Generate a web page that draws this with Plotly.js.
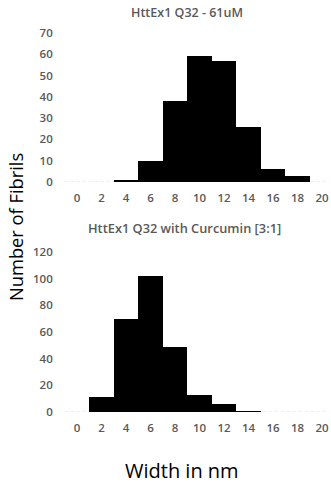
<!DOCTYPE html>
<html>
<head>
<meta charset="utf-8">
<script src="https://cdn.plot.ly/plotly-3.0.1.min.js"></script>
<style>html,body{margin:0;padding:0;background:#fff;}#chart{width:331px;height:483px;}</style>
</head>
<body>
<div id="chart"></div>
<script>
// Data
const tickValues = [0, 2, 4, 6, 8, 10, 12, 14, 16, 18, 20];
const binCenters1 = [4, 6, 8, 10, 12, 14, 16, 18];
const counts1 = [1, 10, 38, 59, 57, 26, 6, 3];
const binCenters2 = [2, 4, 6, 8, 10, 12, 14];
const counts2 = [11, 70, 102, 49, 13, 6, 1];
const title1 = "HttEx1 Q32 - 61uM";
const title2 = "HttEx1 Q32 with Curcumin [3:1]";
const yTitle = "Number of Fibrils";
const xTitle = "Width in nm";

const W = 331, H = 483;
const px = v => v / W;
const py = v => 1 - v / H;

const tickFont = {family: "Open Sans, Noto Sans, sans-serif", size: 11.5, color: "#595959", weight: 600};

const traces = [
  {type: "bar", x: binCenters1, y: counts1, width: 2, xaxis: "x", yaxis: "y",
   marker: {color: "#000000", line: {width: 0}}, hoverinfo: "skip"},
  {type: "bar", x: binCenters2, y: counts2, width: 2, xaxis: "x2", yaxis: "y2",
   marker: {color: "#000000", line: {width: 0}}, hoverinfo: "skip"}
];

const xbase = {
  range: [-1, 20.6], tickvals: tickValues, ticktext: tickValues.map(String),
  showgrid: false, zeroline: false, showline: false, ticks: "",
  ticklabelstandoff: 7,
  tickfont: tickFont, fixedrange: true
};
const ybase = {
  showgrid: false, zeroline: false, showline: false, ticks: "",
  ticklabelstandoff: 11,
  tickfont: tickFont, fixedrange: true
};

const layout = {
  width: W, height: H,
  margin: {l: 0, r: 0, t: 0, b: 0},
  paper_bgcolor: "#ffffff", plot_bgcolor: "#ffffff",
  showlegend: false, bargap: 0,
  xaxis: Object.assign({}, xbase, {domain: [px(64.75), px(329.4)], anchor: "y"}),
  yaxis: Object.assign({}, ybase, {domain: [py(182), py(33)], range: [0, 70], dtick: 10, anchor: "x"}),
  xaxis2: Object.assign({}, xbase, {domain: [px(64.75), px(329.4)], anchor: "y2"}),
  yaxis2: Object.assign({}, ybase, {domain: [py(412), py(252)], range: [0, 120], dtick: 20, anchor: "x2"}),
  shapes: [
    {type: "line", xref: "x domain", yref: "y", x0: 0, x1: 1, y0: 0, y1: 0,
     line: {color: "#d9d9d9", width: 1, dash: "dot"}, layer: "below"},
    {type: "line", xref: "x2 domain", yref: "y2", x0: 0, x1: 1, y0: 0, y1: 0,
     line: {color: "#d9d9d9", width: 1, dash: "dot"}, layer: "below"}
  ],
  annotations: [
    {text: title1, xref: "paper", yref: "paper", x: px(187), y: py(12), xanchor: "center", yanchor: "middle",
     showarrow: false, font: {family: "Open Sans, sans-serif", size: 12.5, color: "#595959", weight: 600}},
    {text: title2, xref: "paper", yref: "paper", x: px(184), y: py(228), xanchor: "center", yanchor: "middle",
     showarrow: false, font: {family: "Open Sans, sans-serif", size: 12.8, color: "#595959", weight: 600}},
    {text: yTitle, xref: "paper", yref: "paper", x: px(16), y: py(227), xanchor: "center", yanchor: "middle",
     textangle: -90, showarrow: false, font: {family: "Open Sans, sans-serif", size: 18.3, color: "#000000"}},
    {text: xTitle, xref: "paper", yref: "paper", x: px(182), y: py(470), xanchor: "center", yanchor: "middle",
     showarrow: false, font: {family: "Open Sans, sans-serif", size: 20, color: "#000000"}}
  ]
};

Plotly.newPlot("chart", traces, layout, {staticPlot: true, displayModeBar: false});
</script>
</body>
</html>
